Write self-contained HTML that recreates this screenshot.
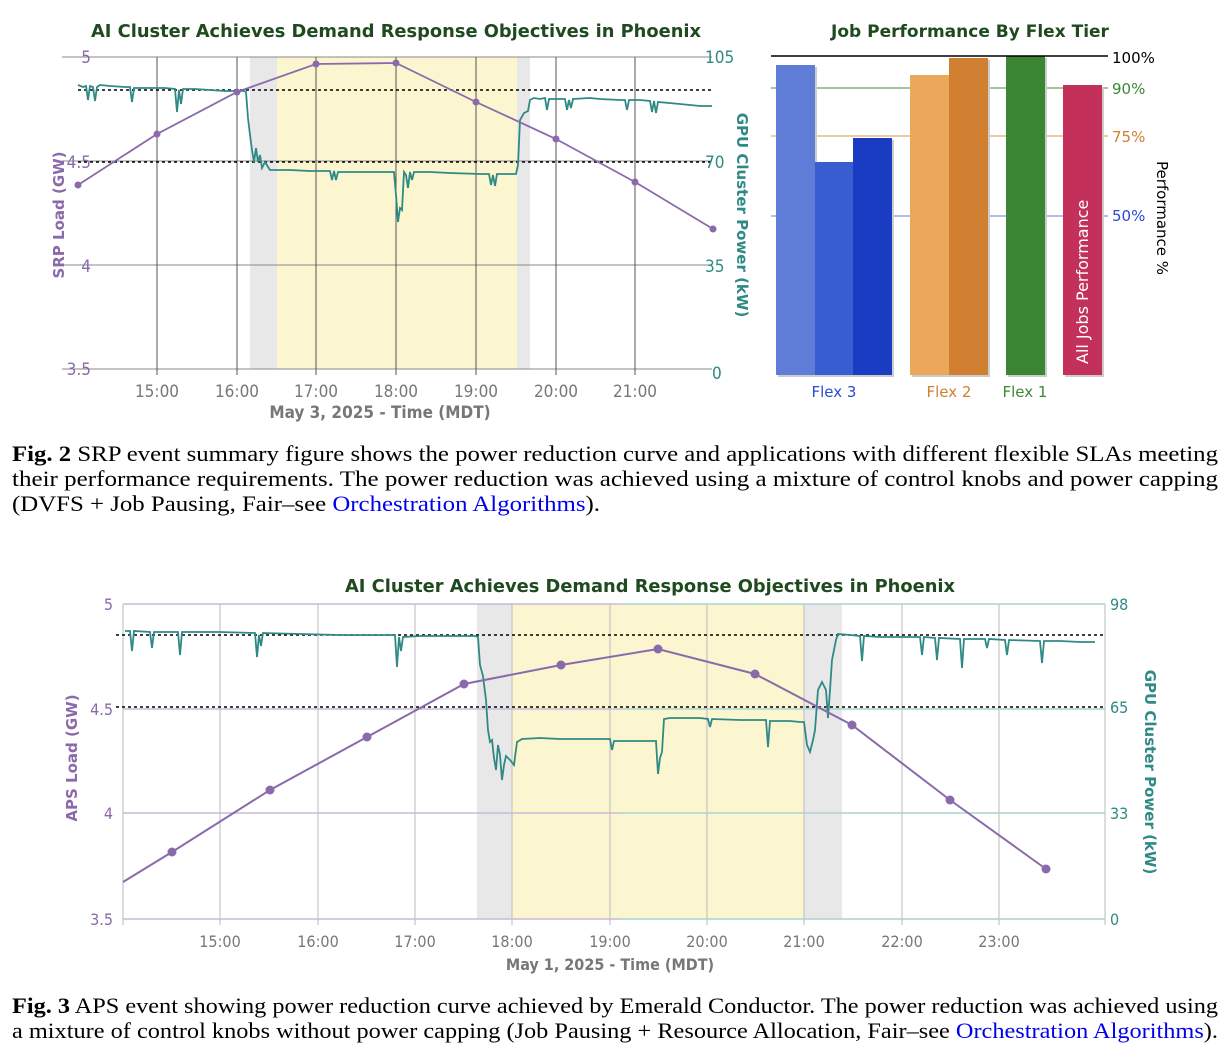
<!DOCTYPE html>
<html><head><meta charset="utf-8"><style>
html,body{margin:0;padding:0;background:#fff;}
svg{display:block;}
.t{font-family:"DejaVu Sans Condensed","DejaVu Sans",sans-serif;}
.s{font-family:"Liberation Serif",serif;font-size:22px;fill:#000;}
</style></head><body>
<svg width="1228" height="1062" viewBox="0 0 1228 1062" xmlns="http://www.w3.org/2000/svg">
<!-- ============ TOP LEFT CHART ============ -->
<text x="396" y="37" text-anchor="middle" class="t" font-weight="bold" font-size="18" fill="#1f4a1f" textLength="610" lengthAdjust="spacingAndGlyphs">AI Cluster Achieves Demand Response Objectives in Phoenix</text>
<rect x="250" y="57" width="27" height="312" fill="#e8e8e8"/>
<rect x="277" y="57" width="240" height="312" fill="#fbf6d0"/>
<rect x="517" y="57" width="13" height="312" fill="#e8e8e8"/>
<g stroke="#888" stroke-width="1">
<line x1="62" y1="57" x2="712" y2="57"/><line x1="62" y1="161" x2="712" y2="161"/>
<line x1="62" y1="265" x2="712" y2="265"/><line x1="62" y1="369" x2="712" y2="369"/>
</g>
<g stroke="#555" stroke-width="1">
<line x1="157" y1="57" x2="157" y2="375"/><line x1="237" y1="57" x2="237" y2="375"/>
<line x1="316" y1="57" x2="316" y2="375"/><line x1="396" y1="57" x2="396" y2="375"/>
<line x1="476" y1="57" x2="476" y2="375"/><line x1="556" y1="57" x2="556" y2="375"/>
<line x1="635" y1="57" x2="635" y2="375"/>
</g>
<line x1="78" y1="90" x2="712" y2="90" stroke="#000" stroke-width="1.5" stroke-dasharray="3,3"/>
<line x1="78" y1="162" x2="712" y2="162" stroke="#000" stroke-width="1.5" stroke-dasharray="3,3"/>
<polyline fill="none" stroke="#2f8a85" stroke-width="1.8" points="78,85 83,87 86,86 88,100 90,86 93,87 95,101 97,87 100,85 110,86 125,87 130,87 132,102 134,88 150,88 165,88 175,89 177,112 179,90 181,104 183,89 195,89 210,90 225,91 235,91 244,91 246,92 248,118 250,135 252,150 254,162 256,148 258,162 260,155 262,168 265,162 270,170 290,170 310,171 330,171 332,180 334,171 336,180 338,172 360,172 390,172 394,172 396,195 398,222 400,208 402,210 404,172 406,175 408,188 410,172 412,180 414,172 430,172 450,173 480,174 489,174 491,185 493,175 495,186 497,174 510,174 516,174 518,165 520,120 524,113 528,111 530,100 534,98 540,99 545,98 547,110 549,99 560,99 565,99 567,110 569,100 571,108 573,99 590,98 600,99 620,100 625,100 627,110 629,100 640,100 650,101 652,112 654,101 656,113 658,102 680,104 700,106 712,106"/>
<polyline fill="none" stroke="#8a6aaa" stroke-width="1.8" points="78,185 157,134 237,92 316,64 396,63 476,102 556,139 635,182 713,229"/>
<g fill="#8a6aaa"><circle cx="78" cy="185" r="3.5"/><circle cx="157" cy="134" r="3.5"/><circle cx="237" cy="92" r="3.5"/><circle cx="316" cy="64" r="3.5"/><circle cx="396" cy="63" r="3.5"/><circle cx="476" cy="102" r="3.5"/><circle cx="556" cy="139" r="3.5"/><circle cx="635" cy="182" r="3.5"/><circle cx="713" cy="229" r="3.5"/></g>
<g class="t" font-size="17" fill="#8a6aaa" text-anchor="end">
<text x="91" y="63">5</text><text x="91" y="168">4.5</text><text x="91" y="272">4</text><text x="91" y="375">3.5</text></g>
<g class="t" font-size="17" fill="#2f8a85" text-anchor="start">
<text x="705" y="63">105</text><text x="705" y="168">70</text><text x="705" y="272">35</text><text x="712" y="379">0</text></g>
<g class="t" font-size="17" fill="#777" text-anchor="middle">
<text x="157" y="397">15:00</text><text x="237" y="397">16:00</text><text x="316" y="397">17:00</text><text x="396" y="397">18:00</text><text x="476" y="397">19:00</text><text x="556" y="397">20:00</text><text x="635" y="397">21:00</text></g>
<text x="380" y="418" text-anchor="middle" class="t" font-weight="bold" font-size="17" fill="#777">May 3, 2025 - Time (MDT)</text>
<text transform="translate(64,215) rotate(-90)" text-anchor="middle" font-family="DejaVu Sans,sans-serif" font-weight="bold" font-size="15" fill="#8a6aaa">SRP Load (GW)</text>
<text transform="translate(737,215) rotate(90)" text-anchor="middle" font-family="DejaVu Sans,sans-serif" font-weight="bold" font-size="15" fill="#2f8a85">GPU Cluster Power (kW)</text>

<!-- ============ BAR CHART ============ -->
<text x="970" y="37" text-anchor="middle" font-family="DejaVu Sans,sans-serif" font-weight="bold" font-size="17" fill="#1f4a1f">Job Performance By Flex Tier</text>
<line x1="771" y1="88" x2="1108" y2="88" stroke="#4a8a40" stroke-width="1"/>
<line x1="771" y1="136" x2="1108" y2="136" stroke="#d09a50" stroke-width="1"/>
<line x1="771" y1="216" x2="1108" y2="216" stroke="#5f7dd6" stroke-width="1"/>
<g fill="#ccc">
<rect x="778" y="67" width="39" height="310"/><rect x="817" y="164" width="38" height="213"/><rect x="855" y="140" width="39" height="237"/>
<rect x="912" y="77" width="39" height="300"/><rect x="951" y="60" width="39" height="317"/><rect x="1008" y="58" width="39" height="319"/><rect x="1065" y="87" width="39" height="290"/></g>
<rect x="776" y="65" width="39" height="310" fill="#5f7dd6"/>
<rect x="815" y="162" width="38" height="213" fill="#385dd0"/>
<rect x="853" y="138" width="39" height="237" fill="#1a3cc2"/>
<rect x="910" y="75" width="39" height="300" fill="#eba85a"/>
<rect x="949" y="58" width="39" height="317" fill="#d08030"/>
<rect x="1006" y="56" width="39" height="319" fill="#3b8632"/>
<rect x="1063" y="85" width="39" height="290" fill="#c3305a"/>
<line x1="771" y1="56" x2="1108" y2="56" stroke="#000" stroke-width="1.5"/>
<text transform="translate(1088,364) rotate(-90)" font-family="DejaVu Sans,sans-serif" font-size="16" fill="#fff">All Jobs Performance</text>
<g font-family="DejaVu Sans,sans-serif" font-size="15">
<text x="1112" y="63" fill="#000">100%</text>
<text x="1112" y="94" fill="#3b8a32">90%</text>
<text x="1112" y="142" fill="#d08030">75%</text>
<text x="1112" y="221" fill="#2a4ad0">50%</text>
<text x="834" y="397" text-anchor="middle" fill="#2a4ad0">Flex 3</text>
<text x="949" y="397" text-anchor="middle" fill="#d08030">Flex 2</text>
<text x="1025" y="397" text-anchor="middle" fill="#3b8a32">Flex 1</text>
<text transform="translate(1157,218) rotate(90)" text-anchor="middle" fill="#000">Performance %</text>
</g>

<!-- ============ CAPTION FIG 2 ============ -->
<text x="12" y="461" class="s" textLength="1206" lengthAdjust="spacingAndGlyphs"><tspan font-weight="bold">Fig. 2</tspan>  SRP event summary figure shows the power reduction curve and applications with different flexible SLAs meeting</text>
<text x="12" y="486" class="s" textLength="1206" lengthAdjust="spacingAndGlyphs">their performance requirements. The power reduction was achieved using a mixture of control knobs and power capping</text>
<text x="12" y="511" class="s" textLength="588" lengthAdjust="spacingAndGlyphs">(DVFS + Job Pausing, Fair–see <tspan fill="#0000ee">Orchestration Algorithms</tspan>).</text>

<!-- ============ BOTTOM CHART ============ -->
<text x="650" y="592" text-anchor="middle" class="t" font-weight="bold" font-size="18" fill="#1f4a1f" textLength="610" lengthAdjust="spacingAndGlyphs">AI Cluster Achieves Demand Response Objectives in Phoenix</text>
<rect x="477" y="604" width="35" height="315" fill="#e8e8e8"/>
<rect x="512" y="604" width="292" height="315" fill="#fbf6d0"/>
<rect x="804" y="604" width="38" height="315" fill="#e8e8e8"/>
<g stroke="#bbb" stroke-width="1">
<line x1="220" y1="604" x2="220" y2="925"/><line x1="318" y1="604" x2="318" y2="925"/><line x1="415" y1="604" x2="415" y2="925"/>
<line x1="512" y1="604" x2="512" y2="925"/><line x1="610" y1="604" x2="610" y2="925"/><line x1="707" y1="604" x2="707" y2="925"/>
<line x1="804" y1="604" x2="804" y2="925"/><line x1="902" y1="604" x2="902" y2="925"/><line x1="999" y1="604" x2="999" y2="925"/>
<line x1="1105" y1="604" x2="1105" y2="925"/><line x1="123" y1="604" x2="123" y2="925"/>
</g>
<g stroke-width="1.5">
<line x1="123" y1="604" x2="620" y2="604" stroke="#c9b8dc"/><line x1="620" y1="604" x2="1105" y2="604" stroke="#a9d3d0"/>
<line x1="123" y1="709" x2="620" y2="709" stroke="#c9b8dc"/><line x1="620" y1="709" x2="1105" y2="709" stroke="#a9d3d0"/>
<line x1="123" y1="813" x2="620" y2="813" stroke="#c9b8dc"/><line x1="620" y1="813" x2="1105" y2="813" stroke="#a9d3d0"/>
<line x1="123" y1="919" x2="620" y2="919" stroke="#c9b8dc"/><line x1="620" y1="919" x2="1105" y2="919" stroke="#a9d3d0"/>
</g>
<line x1="116" y1="635" x2="1105" y2="635" stroke="#000" stroke-width="1.5" stroke-dasharray="3,3"/>
<line x1="116" y1="707" x2="1105" y2="707" stroke="#000" stroke-width="1.5" stroke-dasharray="3,3"/>
<polyline fill="none" stroke="#2f8a85" stroke-width="1.8" points="125,631 130,631 132,651 134,631 150,632 152,648 154,632 178,632 180,655 182,632 220,632 255,633 257,657 259,635 261,646 263,633 300,634 340,635 390,635 395,635 397,667 399,637 401,651 403,637 420,636 440,636 475,636 478,637 480,665 483,676 486,700 488,730 490,742 492,740 494,758 496,770 498,745 500,755 502,780 504,765 506,756 510,760 514,765 517,742 522,739 540,738 560,739 590,739 610,739 612,750 614,741 630,741 650,741 656,741 658,774 660,758 662,752 664,719 670,718 700,718 708,719 710,727 712,719 740,720 766,720 768,747 770,721 790,721 800,722 804,722 807,745 810,752 813,740 815,730 818,690 822,682 826,690 828,718 830,690 832,660 836,640 838,634 850,635 860,636 862,661 864,636 880,637 920,637 922,655 924,637 935,638 937,660 939,638 960,639 962,668 964,639 985,639 987,648 989,639 1005,640 1007,655 1009,640 1040,641 1042,663 1044,641 1060,641 1080,642 1095,642"/>
<polyline fill="none" stroke="#8a6aaa" stroke-width="2" points="123,882 172,852 270,790 367,737 464,684 561,665 658,649 755,674 852,725 950,800 1046,869"/>
<g fill="#8a6aaa"><circle cx="172" cy="852" r="4.5"/><circle cx="270" cy="790" r="4.5"/><circle cx="367" cy="737" r="4.5"/><circle cx="464" cy="684" r="4.5"/><circle cx="561" cy="665" r="4.5"/><circle cx="658" cy="649" r="4.5"/><circle cx="755" cy="674" r="4.5"/><circle cx="852" cy="725" r="4.5"/><circle cx="950" cy="800" r="4.5"/><circle cx="1046" cy="869" r="4.5"/></g>
<g class="t" font-size="16" fill="#8a6aaa" text-anchor="end">
<text x="113" y="610">5</text><text x="113" y="715">4.5</text><text x="113" y="819">4</text><text x="113" y="925">3.5</text></g>
<g class="t" font-size="16" fill="#2f8a85" text-anchor="start">
<text x="1110" y="610">98</text><text x="1110" y="713">65</text><text x="1110" y="819">33</text><text x="1110" y="925">0</text></g>
<g class="t" font-size="16" fill="#777" text-anchor="middle">
<text x="220" y="947">15:00</text><text x="318" y="947">16:00</text><text x="415" y="947">17:00</text><text x="512" y="947">18:00</text><text x="610" y="947">19:00</text><text x="707" y="947">20:00</text><text x="804" y="947">21:00</text><text x="902" y="947">22:00</text><text x="999" y="947">23:00</text></g>
<text x="610" y="970" text-anchor="middle" class="t" font-weight="bold" font-size="16" fill="#777">May 1, 2025 - Time (MDT)</text>
<text transform="translate(77,758) rotate(-90)" text-anchor="middle" font-family="DejaVu Sans,sans-serif" font-weight="bold" font-size="15" fill="#8a6aaa">APS Load  (GW)</text>
<text transform="translate(1145,772) rotate(90)" text-anchor="middle" font-family="DejaVu Sans,sans-serif" font-weight="bold" font-size="15" fill="#2f8a85">GPU Cluster Power (kW)</text>

<!-- ============ CAPTION FIG 3 ============ -->
<text x="12" y="1013" class="s" textLength="1206" lengthAdjust="spacingAndGlyphs"><tspan font-weight="bold">Fig. 3</tspan>  APS event showing power reduction curve achieved by Emerald Conductor. The power reduction was achieved using</text>
<text x="12" y="1038" class="s" textLength="1206" lengthAdjust="spacingAndGlyphs">a mixture of control knobs without power capping (Job Pausing + Resource Allocation, Fair–see <tspan fill="#0000ee">Orchestration Algorithms</tspan>).</text>
</svg>
</body></html>
